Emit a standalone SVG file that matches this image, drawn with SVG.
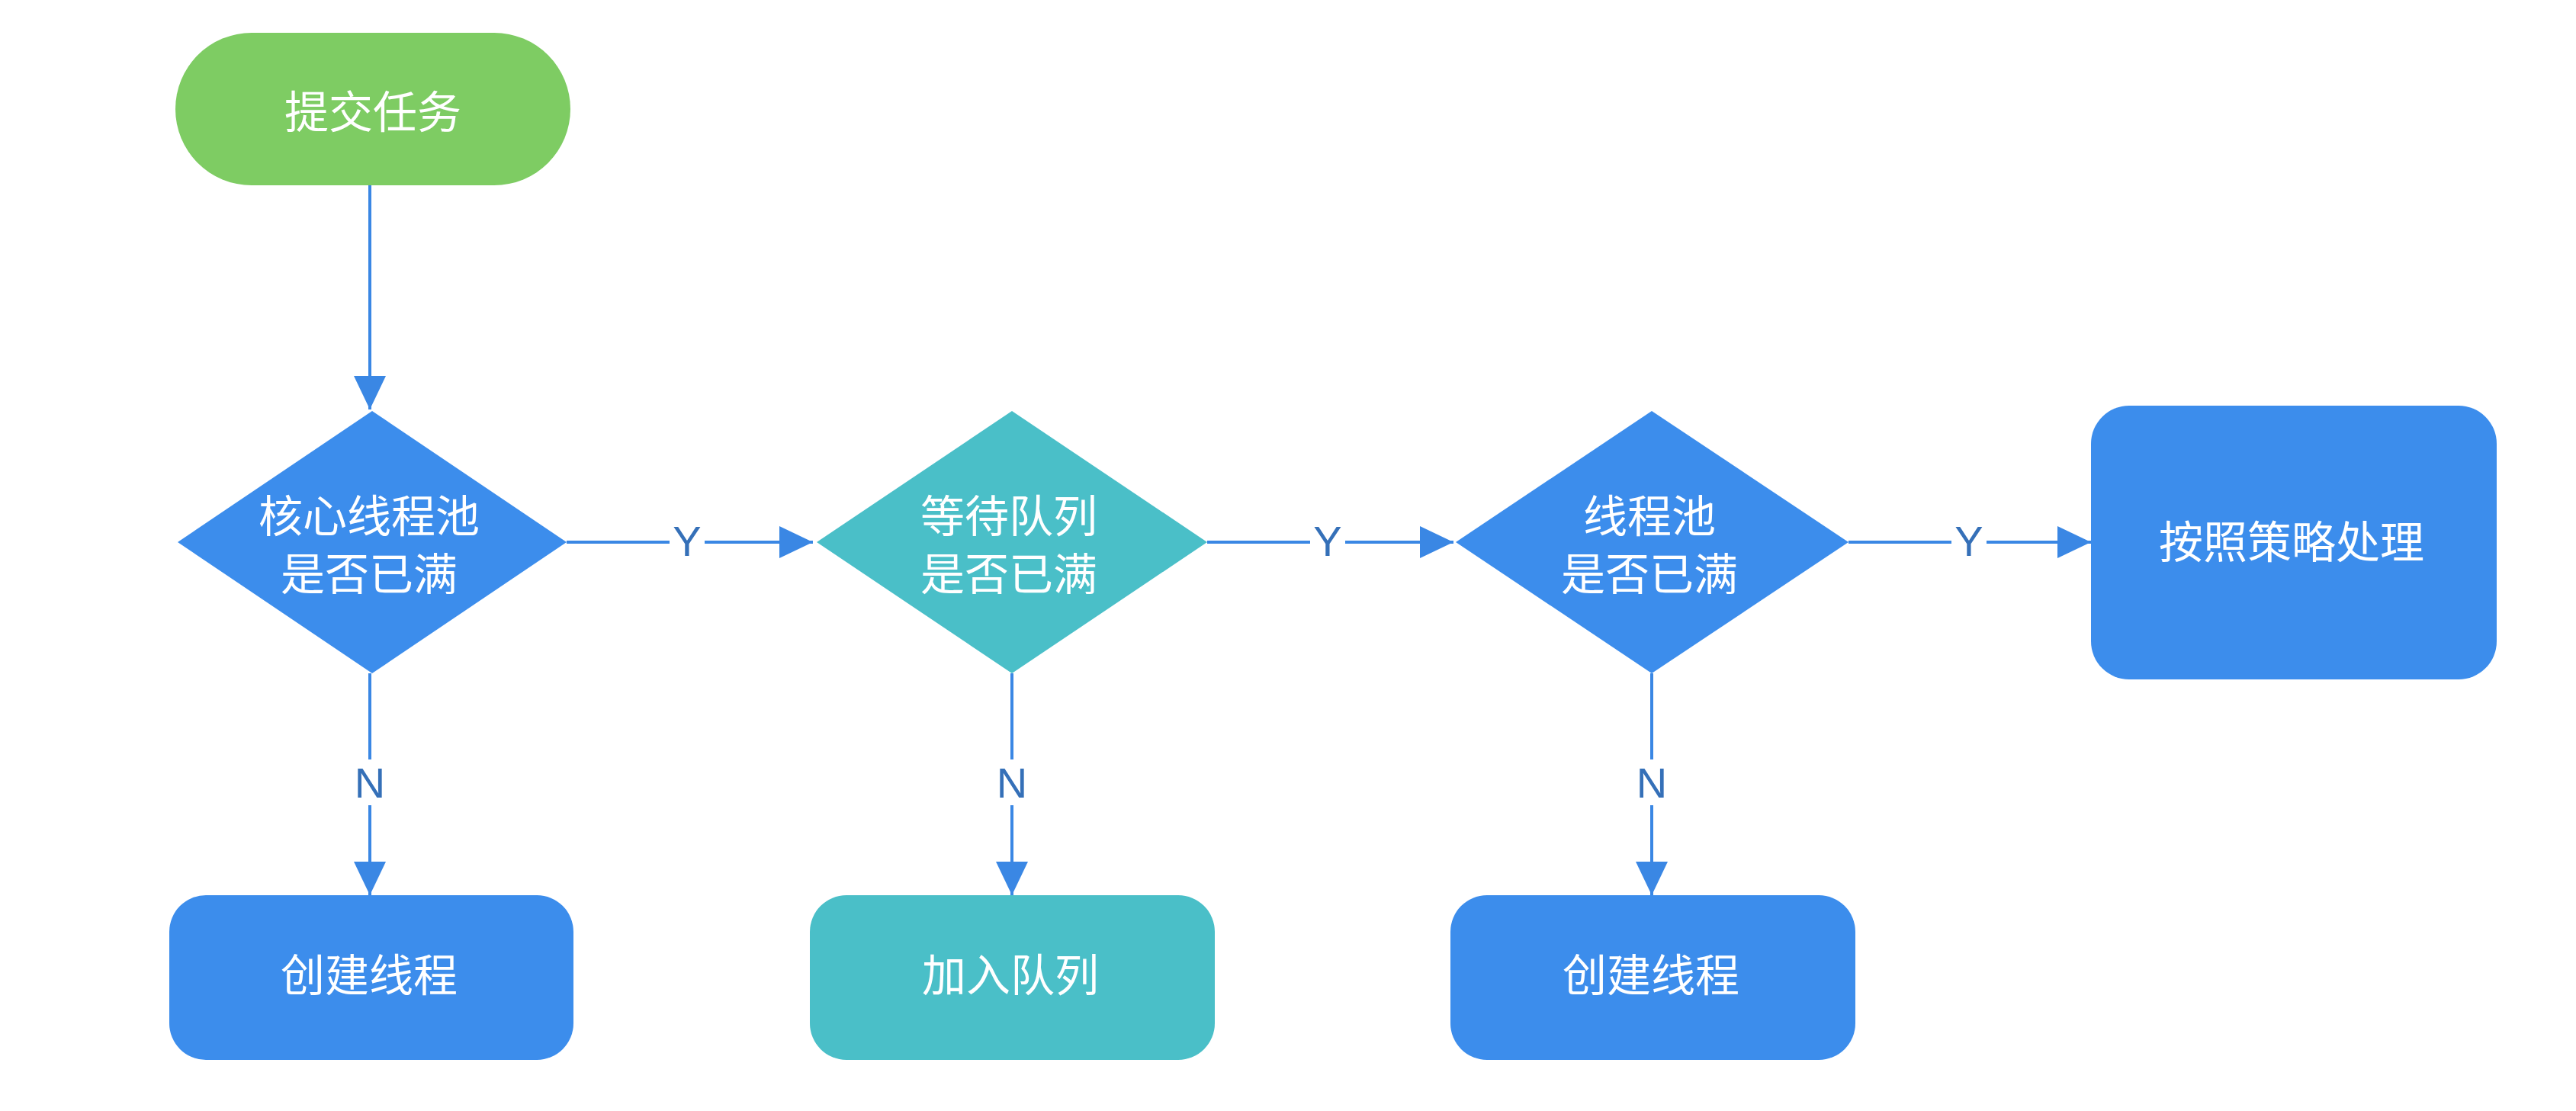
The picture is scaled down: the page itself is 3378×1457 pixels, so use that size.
<svg xmlns="http://www.w3.org/2000/svg" width="3378" height="1457" viewBox="0 0 3378 1457">
<style>
.node-text{font-family:"Noto Sans CJK SC","Noto Sans",sans-serif;font-size:58px;fill:#ffffff;text-anchor:middle;dominant-baseline:central}
.lbl{font-family:"Liberation Sans","Noto Sans",sans-serif;font-size:56px;fill:#3570b8;text-anchor:middle;dominant-baseline:central}
.edge{stroke:#3a87e4;stroke-width:4;fill:none}
.blue{fill:#3c8dec}
.teal{fill:#4abfc8}
.green{fill:#7ecc63}
.lblbg{fill:#ffffff}
</style>
<defs>
<marker id="arr" viewBox="0 0 44 42" refX="44" refY="21" markerWidth="44" markerHeight="42" markerUnits="userSpaceOnUse" orient="auto">
<path d="M0,0 L44,21 L0,42 Z" fill="#3a87e4"/>
</marker>
</defs>
<rect width="3378" height="1457" fill="#ffffff"/>
<g id="connectors">
<line class="edge" x1="485" y1="243" x2="485" y2="537" marker-end="url(#arr)"/>
<line class="edge" x1="743" y1="711" x2="1066" y2="711" marker-end="url(#arr)"/>
<line class="edge" x1="1583" y1="711" x2="1906" y2="711" marker-end="url(#arr)"/>
<line class="edge" x1="2424" y1="711" x2="2742" y2="711" marker-end="url(#arr)"/>
<line class="edge" x1="485" y1="883" x2="485" y2="1174" marker-end="url(#arr)"/>
<line class="edge" x1="1327" y1="883" x2="1327" y2="1174" marker-end="url(#arr)"/>
<line class="edge" x1="2166" y1="883" x2="2166" y2="1174" marker-end="url(#arr)"/>
<rect class="lblbg" x="878" y="681" width="46" height="60"/>
<text class="lbl" x="901" y="709">Y</text>
<rect class="lblbg" x="1718" y="681" width="46" height="60"/>
<text class="lbl" x="1741" y="709">Y</text>
<rect class="lblbg" x="2559" y="681" width="46" height="60"/>
<text class="lbl" x="2582" y="709">Y</text>
<rect class="lblbg" x="460" y="996" width="50" height="60"/>
<text class="lbl" x="485" y="1026">N</text>
<rect class="lblbg" x="1302" y="996" width="50" height="60"/>
<text class="lbl" x="1327" y="1026">N</text>
<rect class="lblbg" x="2141" y="996" width="50" height="60"/>
<text class="lbl" x="2166" y="1026">N</text>
</g>
<g id="start">
<rect class="green" x="230" y="43" width="518" height="200" rx="100" ry="100"/>
<text class="node-text" x="489" y="143">提交任务</text>
</g>
<g id="core-full">
<polygon class="blue" points="488,539 743,711 488,883 233,711"/>
<text class="node-text" x="484" y="673">核心线程池</text>
<text class="node-text" x="484" y="749">是否已满</text>
</g>
<g id="queue-full">
<polygon class="teal" points="1327,539 1583,711 1327,883 1071,711"/>
<text class="node-text" x="1323" y="673">等待队列</text>
<text class="node-text" x="1323" y="749">是否已满</text>
</g>
<g id="pool-full">
<polygon class="blue" points="2166,539 2424,711 2166,883 1909,711"/>
<text class="node-text" x="2163" y="673">线程池</text>
<text class="node-text" x="2163" y="749">是否已满</text>
</g>
<g id="reject">
<rect class="blue" x="2742" y="532" width="532" height="359" rx="50" ry="50"/>
<text class="node-text" x="3005" y="707">按照策略处理</text>
</g>
<g id="create1">
<rect class="blue" x="222" y="1174" width="530" height="216" rx="48" ry="48"/>
<text class="node-text" x="484" y="1275">创建线程</text>
</g>
<g id="enqueue">
<rect class="teal" x="1062" y="1174" width="531" height="216" rx="48" ry="48"/>
<text class="node-text" x="1325" y="1275">加入队列</text>
</g>
<g id="create2">
<rect class="blue" x="1902" y="1174" width="531" height="216" rx="48" ry="48"/>
<text class="node-text" x="2165" y="1275">创建线程</text>
</g>
</svg>
